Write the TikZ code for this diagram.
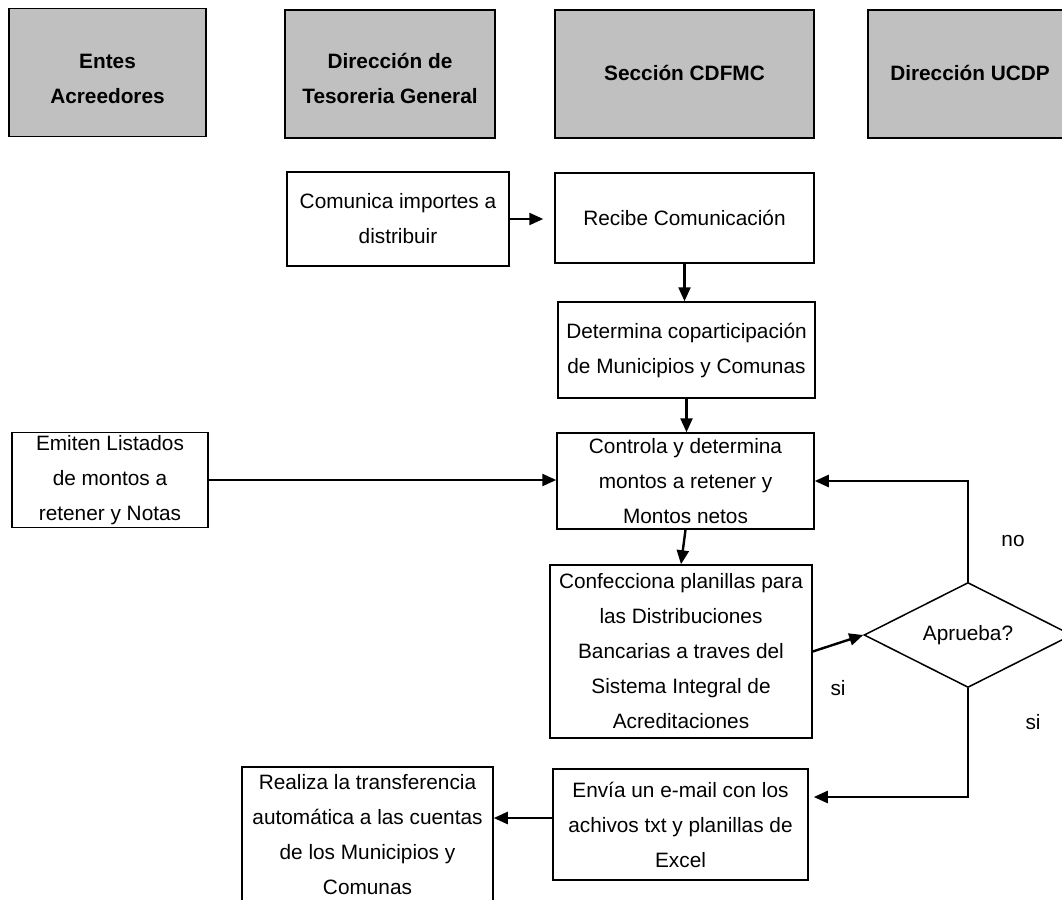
\documentclass[tikz,border=0pt]{standalone}
\usepackage{fontspec}
\setmainfont{Liberation Sans}
\usetikzlibrary{arrows.meta,shapes.geometric}
\definecolor{hdrgray}{RGB}{192,192,192}
\begin{document}
\begin{tikzpicture}[x=1pt,y=-1pt,
  txt/.style={font=\fontsize{20.8}{35}\selectfont, align=center},
  hdrbox/.style={draw, line width=1.9pt, fill=hdrgray, inner sep=0pt, minimum height=128pt},
  hdrtxt/.style={font=\bfseries\fontsize{20.8}{35}\selectfont, align=center, inner sep=0pt},
  box/.style={draw, line width=1.5pt, txt, inner sep=0pt},
  arr/.style={line width=2.4pt, -{Triangle[length=14pt,width=12pt]}}]
\useasboundingbox (0,0) rectangle (1062,899);
\clip (0,0) rectangle (1062,899);

% headers
\node[hdrbox, minimum width=197pt] (h1) at (107.5,72.5) {};
\node[hdrtxt] (h1t) at (107.5,79) {Entes\\Acreedores};
\node[hdrbox, minimum width=210pt] (h2) at (390,74) {};
\node[hdrtxt] (h2t) at (390,78) {Dirección de\\Tesoreria General};
\node[hdrbox, minimum width=259pt] (h3) at (684.5,74) {};
\node[hdrtxt] (h3t) at (684.5,73) {Sección CDFMC};
\node[hdrbox, minimum width=204pt] (h4) at (970,74) {};
\node[hdrtxt] (h4t) at (970,73) {Dirección UCDP};

% process boxes
\node[box, minimum width=222pt, minimum height=94pt] (com) at (398,219) {Comunica importes a\\distribuir};
\node[box, minimum width=259pt, minimum height=90pt] (rec) at (684.5,218) {Recibe Comunicación};
\node[box, minimum width=257pt, minimum height=96pt] (det) at (686.5,350) {Determina coparticipación\\de Municipios y Comunas};
\node[box, minimum width=257pt, minimum height=96pt] (ctl) at (685.5,481) {Controla y determina\\montos a retener y\\Montos netos};
\node[box, minimum width=196pt, minimum height=95pt] (emi) at (110,480) {Emiten Listados\\de montos a\\retener y Notas};
\node[box, minimum width=262pt, minimum height=173pt] (conf) at (681,651.5) {Confecciona planillas para\\las Distribuciones\\Bancarias a traves del\\Sistema Integral de\\Acreditaciones};
\node[box, diamond, aspect=2, minimum width=208pt, minimum height=105pt] (dia) at (968,635) {Aprueba?};
\node[box, minimum width=255pt, minimum height=111pt] (env) at (680.5,824.5) {Envía un e-mail con los\\achivos txt y planillas de\\Excel};
\node[box, minimum width=251pt, minimum height=135pt] (rea) at (367.5,834.5) {Realiza la transferencia\\automática a las cuentas\\de los Municipios y\\Comunas};

% labels
\node[txt] (lno) at (1013,541) {no};
\node[txt] (lsi1) at (838,688) {si};
\node[txt] (lsi2) at (1033,722) {si};

% connectors
\draw[arr, shorten >=11pt] (com.east) -- (com.east -| rec.west);
\draw[arr] (rec.south) -- (rec.south |- det.north);
\draw[arr] (det.south) -- (det.south |- ctl.north);
\draw[arr] (emi.east) -- (emi.east -| ctl.west);
\draw[arr] (ctl.south) -- (conf.north);
\draw[arr] (conf.east) -- (dia.west);
\draw[arr] (dia.north) |- (ctl.east);
\draw[arr, shorten >=5pt] (dia.south) |- (env.east |- 0,797);
\draw[arr] (env.west |- 0,818) -- (rea.east |- 0,818);
\end{tikzpicture}
\end{document}
